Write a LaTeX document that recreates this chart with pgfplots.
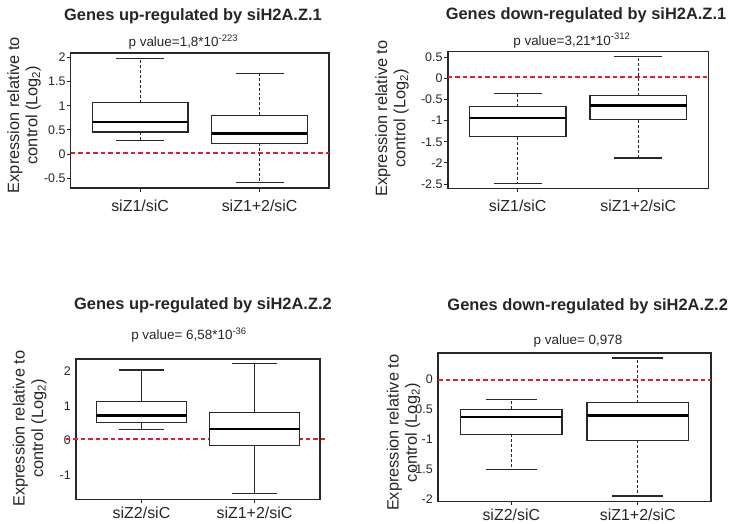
\documentclass[border=0pt]{standalone}
\usepackage{pgfplots}
\pgfplotsset{compat=1.18}
\usepgfplotslibrary{statistics}
\usepackage{fontspec}
\setmainfont{Liberation Sans}
\definecolor{refred}{RGB}{225,35,35}
\definecolor{framec}{RGB}{40,40,40}

\pgfplotsset{
  stemstyle/.style={densely dashed, line width=0.9pt},
  rbox/.style={
    scale only axis,
    anchor=south west,
    xmin=0.42, xmax=2.58,
    xtick={1,2},
    tick pos=left,
    tick align=outside,
    major tick length=4bp,
    axis line style={framec, line width=1.6pt},
    tick style={framec, line width=1pt},
    /pgf/number format/assume math mode=true,
    yticklabel style={font=\fontsize{12.5}{14}\selectfont, text=black!85, inner sep=1pt},
    xticklabel style={font=\fontsize{16}{18}\selectfont, text=black!85, yshift=-4bp},
    boxplot/draw direction=y,
    boxplot/box extend=0.8,
    boxplot/whisker extend=0.4,
    boxplot/every box/.style={draw=framec, line width=1.3pt, fill=white},
    boxplot/every median/.style={draw=black, line width=2.6pt},
    boxplot/every whisker/.style={draw=framec, line width=1.3pt},
    boxplot/draw/lower whisker/.code={
      \draw[/pgfplots/boxplot/every whisker/.try, /pgfplots/stemstyle]
        (boxplot cs:\pgfplotsboxplotvalue{lower quartile}) -- (boxplot cs:\pgfplotsboxplotvalue{lower whisker});
      \draw[/pgfplots/boxplot/every whisker/.try]
        (boxplot whisker cs:\pgfplotsboxplotvalue{lower whisker},0) -- (boxplot whisker cs:\pgfplotsboxplotvalue{lower whisker},1);
    },
    boxplot/draw/upper whisker/.code={
      \draw[/pgfplots/boxplot/every whisker/.try, /pgfplots/stemstyle]
        (boxplot cs:\pgfplotsboxplotvalue{upper quartile}) -- (boxplot cs:\pgfplotsboxplotvalue{upper whisker});
      \draw[/pgfplots/boxplot/every whisker/.try]
        (boxplot whisker cs:\pgfplotsboxplotvalue{upper whisker},0) -- (boxplot whisker cs:\pgfplotsboxplotvalue{upper whisker},1);
    },
    clip=false,
  },
  zline/.style={color=refred, dash pattern=on 4.5bp off 3bp, line width=2bp},
}
\tikzset{
  ttl/.style={anchor=base, font=\bfseries\fontsize{16.5}{18}\selectfont, text=black!85},
  pv/.style={anchor=base, font=\fontsize{13.5}{15}\selectfont, text=black!85},
  yl/.style={rotate=90, align=center, font=\fontsize{16.4}{18.5}\selectfont, text=black!85},
}

\begin{document}
\begin{tikzpicture}
\useasboundingbox (0,0) rectangle (736bp,-524bp);

% ---------------- Panel 1 ----------------
\begin{axis}[rbox, at={(70.7bp,-188bp)}, width=258.3bp, height=135bp,
  ymin=-0.7, ymax=2.09,
  ytick={-0.5,0,0.5,1,1.5,2}, yticklabels={-0.5,0,0.5,1,1.5,2},
  xticklabels={siZ1/siC, siZ1+2/siC}]
\addplot[zline] coordinates {(0.42,0.02) (2.58,0.02)};
\addplot[black, boxplot prepared={draw position=1, lower whisker=0.28, lower quartile=0.46, median=0.66, upper quartile=1.06, upper whisker=1.97}] coordinates {};
\addplot[black, boxplot prepared={draw position=2, lower whisker=-0.59, lower quartile=0.22, median=0.43, upper quartile=0.80, upper whisker=1.67}] coordinates {};
\end{axis}

% ---------------- Panel 2 ----------------
\begin{axis}[rbox, at={(447.7bp,-188.3bp)}, width=260.6bp, height=136.6bp,
  ymin=-2.6, ymax=0.63,
  ytick={-2.5,-2,-1.5,-1,-0.5,0,0.5}, yticklabels={-2.5,-2,-1.5,-1,-0.5,0,0.5},
  xticklabels={siZ1/siC, siZ1+2/siC}]
\addplot[zline] coordinates {(0.42,0.03) (2.58,0.03)};
\addplot[black, boxplot prepared={draw position=1, lower whisker=-2.48, lower quartile=-1.38, median=-0.94, upper quartile=-0.67, upper whisker=-0.36}] coordinates {};
\addplot[black, boxplot prepared={draw position=2, lower whisker=-1.88, lower quartile=-0.98, median=-0.64, upper quartile=-0.41, upper whisker=0.51}] coordinates {};
\end{axis}

% ---------------- Panel 3 ----------------
\begin{axis}[rbox, at={(76bp,-499.3bp)}, width=244bp, height=140.6bp,
  ymin=-1.71, ymax=2.37,
  ytick={-1,0,1,2}, yticklabels={-1,0,1,2},
  ytick style={draw=none},
  xticklabel style={yshift=4bp},
  stemstyle/.style={solid, line width=0.7pt},
  xticklabels={siZ2/siC, siZ1+2/siC}]
\addplot[zline] coordinates {(0.33,0.03) (2.63,0.03)};
\addplot[black, boxplot prepared={draw position=1, lower whisker=0.32, lower quartile=0.51, median=0.73, upper quartile=1.13, upper whisker=2.04}] coordinates {};
\addplot[black, boxplot prepared={draw position=2, lower whisker=-1.54, lower quartile=-0.15, median=0.33, upper quartile=0.80, upper whisker=2.23}] coordinates {};
\end{axis}

% ---------------- Panel 4 ----------------
\begin{axis}[rbox, at={(438bp,-501.3bp)}, width=273bp, height=148.6bp,
  ymin=-2.04, ymax=0.45,
  ytick={-2,-1.5,-1,-0.5,0}, yticklabels={-2,-1.5,-1,0.5,0},
  ytick style={draw=none},
  xticklabel style={yshift=4bp},
  xticklabels={siZ2/siC, siZ1+2/siC}]
\addplot[zline] coordinates {(0.42,0) (2.58,0)};
\addplot[black, boxplot prepared={draw position=1, lower whisker=-1.51, lower quartile=-0.92, median=-0.63, upper quartile=-0.50, upper whisker=-0.33}] coordinates {};
\addplot[black, boxplot prepared={draw position=2, lower whisker=-1.95, lower quartile=-1.02, median=-0.60, upper quartile=-0.39, upper whisker=0.36}] coordinates {};
\end{axis}

% ---------------- Texts ----------------
\node[ttl] at (193bp,-20.7bp) {Genes up-regulated by siH2A.Z.1};
\node[ttl] at (586bp,-19bp) {Genes down-regulated by siH2A.Z.1};
\node[ttl] at (203bp,-309.7bp) {Genes up-regulated by siH2A.Z.2};
\node[ttl] at (587.7bp,-310.3bp) {Genes down-regulated by siH2A.Z.2};

\node[pv] at (183.3bp,-46.7bp) {p value=1,8*10\textsuperscript{-223}};
\node[pv] at (571.8bp,-45bp) {p value=3,21*10\textsuperscript{-312}};
\node[pv] at (189bp,-339.3bp) {p value= 6,58*10\textsuperscript{-36}};
\node[pv] at (578bp,-344.7bp) {p value= 0,978};

\node[yl] at (24bp,-115bp) {Expression relative to\\control (Log\textsubscript{2})};
\node[yl] at (392bp,-118.5bp) {Expression relative to\\control (Log\textsubscript{2})};
\node[yl] at (29.7bp,-428.7bp) {Expression relative to\\control (Log\textsubscript{2})};
\node[yl] at (403.5bp,-432.8bp) {Expression relative to\\control (Log\textsubscript{2})};
\end{tikzpicture}
\end{document}
